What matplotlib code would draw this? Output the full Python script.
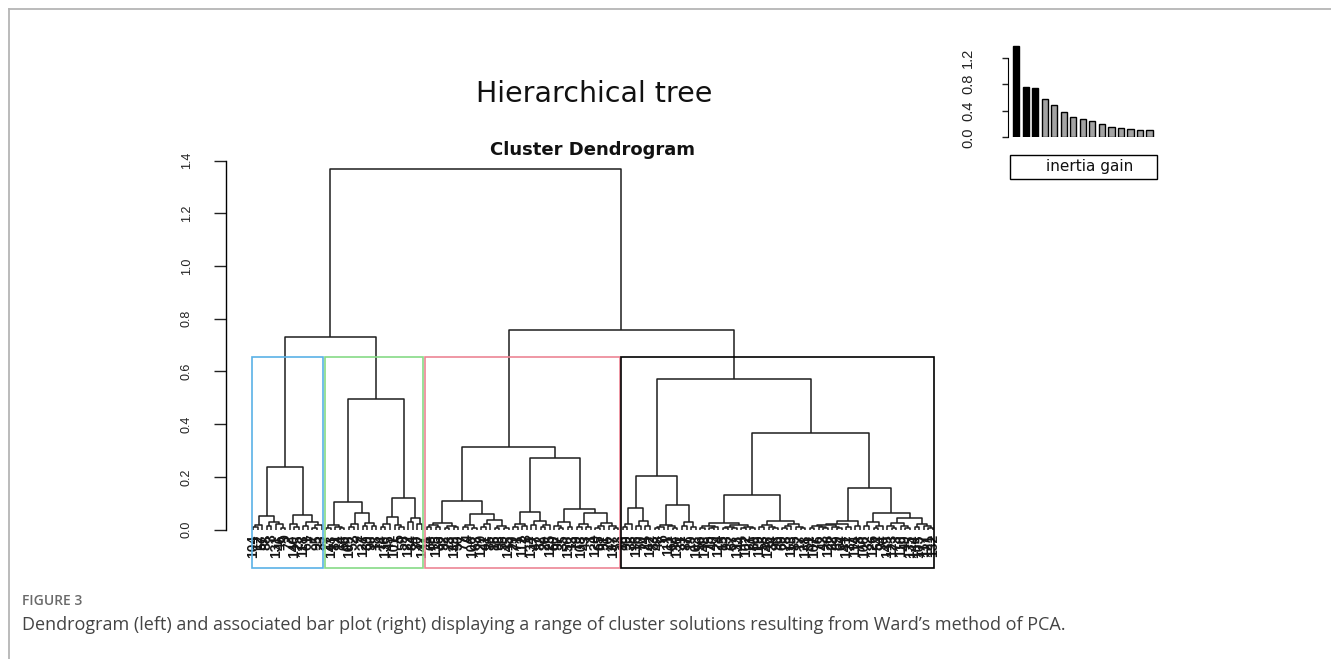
import matplotlib
matplotlib.use("Agg")
import matplotlib.pyplot as plt
from matplotlib.collections import LineCollection
from matplotlib.patches import Rectangle
from matplotlib.lines import Line2D

W, H = 1331, 659
o = None  # a single observation (leaf)

# ---------------- dendrogram data: (merge height, left, right) ----------------
BLUE_TREE = (0.236,
    (0.052, (0.018, (0.008, o, o), o),
            (0.030, (0.012, o, o), (0.020, o, (0.007, o, o)))),
    (0.055, (0.022, o, (0.010, o, o)),
            (0.028, (0.015, o, o), (0.018, (0.006, o, o), o))))

GREEN_TREE = (0.496,
    (0.104, (0.016, (0.007, o, o), (0.010, o, (0.004, o, o))),
            (0.064, (0.020, (0.009, o, o), o),
                    (0.025, (0.012, o, o), (0.014, o, o)))),
    (0.120, (0.047, (0.022, (0.010, o, o), o), (0.018, o, (0.008, o, o))),
            (0.045, (0.030, o, o), (0.020, o, o))))

RED_TREE = (0.312,
    (0.108, (0.026, (0.016, (0.008, o, o), (0.010, o, o)),
                    (0.014, (0.006, o, o), (0.009, o, o))),
            (0.058, (0.016, (0.008, o, o), (0.006, o, o)),
                    (0.035, (0.020, (0.009, o, o), o),
                            (0.015, (0.007, o, o), (0.005, o, o))))),
    (0.270, (0.067, (0.020, (0.010, o, o), (0.012, o, o)),
                    (0.033, (0.018, o, o), (0.016, (0.008, o, o), o))),
            (0.077, (0.028, (0.014, o, (0.006, o, o)), (0.010, o, o)),
                    (0.062, (0.022, (0.010, o, o), (0.008, o, o)),
                            (0.024, (0.012, (0.005, o, o), o),
                                    (0.015, o, (0.007, o, o)))))))

BLACK_TREE = (0.570,
    (0.205, (0.083, (0.022, (0.010, o, o), o),
                    (0.033, (0.015, o, o), (0.012, o, o))),
            (0.095, (0.018, (0.010, (0.005, o, o), o), (0.012, o, (0.006, o, o))),
                    (0.030, (0.014, o, o), (0.010, o, o)))),
    (0.367, (0.131, (0.026, (0.012, (0.006, o, o), (0.008, (0.004, o, o), o)),
                            (0.016, (0.010, (0.005, o, o), (0.007, o, o)),
                                    (0.011, (0.004, o, o), (0.006, o, o)))),
                    (0.034, (0.016, (0.008, o, o), (0.010, o, (0.004, o, o))),
                            (0.020, (0.012, (0.006, o, o), o), (0.009, o, (0.004, o, o))))),
            (0.157, (0.034, (0.022, (0.016, (0.012, (0.006, o, o), (0.009, o, (0.004, o, o))),
                                            (0.008, o, (0.004, o, o))),
                                    (0.010, o, o)),
                            (0.012, o, o)),
                    (0.064, (0.030, (0.014, o, o), (0.012, (0.005, o, o), o)),
                            (0.043, (0.025, (0.012, o, (0.005, o, o)), (0.015, o, (0.006, o, o))),
                                    (0.021, (0.010, o, o), (0.012, o, (0.005, o, o))))))))

LEFT_MERGE = 0.730
RIGHT_MERGE = 0.757
ROOT_MERGE = 1.367
CLUSTER_TREES = [BLUE_TREE, GREEN_TREE, RED_TREE, BLACK_TREE]

BLUE_LABELS = [104, 12, 57, 88, 3, 131, 46, 9, 72, 140, 25, 118, 61, 7, 95, 33]
GREEN_LABELS = [27, 143, 81, 14, 66, 109, 52, 2, 127, 39, 90, 18, 74, 136, 45, 101,
                5, 59, 122, 84, 30, 147]
RED_LABELS = [11, 68, 115, 36, 92, 23, 139, 50, 77, 4, 106, 63, 129, 41, 86, 16, 98,
              55, 145, 29, 71, 112, 8, 134, 47, 82, 20, 125, 60, 97, 35, 150, 13, 79,
              108, 43, 1, 120, 65, 91, 26, 137, 53]
BLACK_LABELS = [10, 99, 38, 116, 70, 24, 142, 83, 48, 6, 111, 62, 130, 31, 87, 19, 103,
                56, 148, 75, 40, 124, 15, 93, 67, 133, 44, 102, 21, 80, 119, 58, 146, 34,
                96, 69, 28, 113, 85, 17, 138, 51, 107, 76, 42, 128, 22, 89, 64, 141, 37,
                114, 78, 100, 32, 126, 54, 94, 149, 123, 73, 110, 49, 135, 144, 105, 117,
                121, 132]
CUT_HEIGHT = 0.655
Y_TICKS = [0.0, 0.2, 0.4, 0.6, 0.8, 1.0, 1.2, 1.4]

# ---------------- inertia gain bar plot ----------------
INERTIA_GAIN = [1.38, 0.759, 0.739, 0.578, 0.492, 0.377, 0.312, 0.276, 0.241,
                0.196, 0.156, 0.136, 0.126, 0.111, 0.111]
N_CHOSEN = 3
BAR_TICKS = [0.0, 0.4, 0.8, 1.2]

TITLE = "Hierarchical tree"
SUBTITLE = "Cluster Dendrogram"
LEGEND_TEXT = "inertia gain"
FIG_LABEL = "FIGURE 3"
CAPTION = ("Dendrogram (left) and associated bar plot (right) displaying a range of "
           "cluster solutions resulting from Ward\u2019s method of PCA.")

CLUSTER_COLORS = ["#5AB1E6", "#86DA86", "#EC8595", "#000000"]
NARROW = ["Liberation Sans Narrow", "Liberation Sans", "DejaVu Sans"]


def px_rect(l, t, r, b):
    return [l / W, 1 - b / H, (r - l) / W, (b - t) / H]


def layout(node, pos, segs, leaves):
    if node is None:
        pos[0] += 1
        leaves.append(pos[0])
        return pos[0], 0.0
    h, left, right = node
    xl, yl = layout(left, pos, segs, leaves)
    xr, yr = layout(right, pos, segs, leaves)
    segs.append([(xl, yl), (xl, h), (xr, h), (xr, yr)])
    return (xl + xr) / 2.0, h


def count(node):
    return 1 if node is None else count(node[1]) + count(node[2])


fig = plt.figure(figsize=(W / 100, H / 100), dpi=100)
fig.patch.set_facecolor("white")

# card frame (left + top)
fig.add_artist(Line2D([9 / W, 9 / W], [0, 1 - 9 / H], transform=fig.transFigure,
                      color="#b5b5b5", lw=1.3))
fig.add_artist(Line2D([9 / W, 1], [1 - 9 / H, 1 - 9 / H], transform=fig.transFigure,
                      color="#b5b5b5", lw=1.3))

# ---------------- dendrogram ----------------
tree = (ROOT_MERGE, (LEFT_MERGE, BLUE_TREE, GREEN_TREE), (RIGHT_MERGE, RED_TREE, BLACK_TREE))
segs, leaves = [], []
layout(tree, [0], segs, leaves)
n = len(leaves)
labels = BLUE_LABELS + GREEN_LABELS + RED_LABELS + BLACK_LABELS

ax = fig.add_axes(px_rect(226, 155.4, 960, 568))
ax.set_xlim(1 - 0.04 * (n - 1), n + 0.04 * (n - 1))
ax.set_ylim(-0.146, 1.42)
ax.add_collection(LineCollection(segs, colors="#1e1e1e", linewidths=1.1))

for x, lab in zip(leaves, labels):
    ax.text(x, -0.018, str(lab), rotation=90, ha="center", va="top",
            fontsize=10, family=NARROW, weight="bold", color="#151515")

start = 1
for tr, col in zip(CLUSTER_TREES, CLUSTER_COLORS):
    k = count(tr)
    x0, x1 = start - 0.34, start + k - 1 + 0.33
    y0 = ax.get_ylim()[0]
    ax.add_patch(Rectangle((x0, y0), x1 - x0, CUT_HEIGHT - y0, fill=False,
                           edgecolor=col, lw=1.2, clip_on=False, zorder=3))
    start += k

for s in ["top", "right", "bottom"]:
    ax.spines[s].set_visible(False)
ax.spines["left"].set_bounds(0, 1.4)
ax.spines["left"].set_linewidth(1.0)
ax.set_xticks([])
ax.set_yticks(Y_TICKS)
ax.set_yticklabels([f"{v:.1f}" for v in Y_TICKS])
ax.tick_params(axis="y", length=9, width=1.0, pad=15, labelsize=9, colors="#222222")
for t in ax.get_yticklabels():
    t.set_rotation(90)
    t.set_va("center")
    t.set_ha("right")
    t.set_family(NARROW)
ax.patch.set_alpha(0)

fig.text(594 / W, 1 - 101.5 / H, TITLE, ha="center", va="baseline", fontsize=20.5,
         family="DejaVu Sans", color="#111111")
fig.text(593 / W, 1 - 155 / H, SUBTITLE, ha="center", va="baseline", fontsize=13,
         weight="bold", family="DejaVu Sans", color="#111111")

# ---------------- inertia gain inset ----------------
ax2 = fig.add_axes(px_rect(1008.3, 41.2, 1160, 137.3))
ax2.set_xlim(-0.83, 15.1)
ax2.set_ylim(0, 1.45)
bar_colors = ["black" if i < N_CHOSEN else "#a3a3a3" for i in range(len(INERTIA_GAIN))]
ax2.bar(range(len(INERTIA_GAIN)), INERTIA_GAIN, width=0.65, color=bar_colors,
        edgecolor="black", linewidth=1.0)
for s in ["top", "right", "bottom"]:
    ax2.spines[s].set_visible(False)
ax2.spines["left"].set_bounds(0, 1.2)
ax2.set_xticks([])
ax2.set_yticks(BAR_TICKS)
ax2.set_yticklabels([f"{v:.1f}" for v in BAR_TICKS])
ax2.tick_params(axis="y", length=4, width=1.0, pad=20, labelsize=10.5, colors="#222222")
for t in ax2.get_yticklabels():
    t.set_rotation(90)
    t.set_va("center")
    t.set_ha("right")
    t.set_family(NARROW)
ax2.patch.set_alpha(0)

# legend box
fig.add_artist(Rectangle((1010 / W, 1 - 179 / H), 147.3 / W, 24 / H,
                         transform=fig.transFigure, fill=False, edgecolor="black", lw=1.0))
fig.text(1090 / W, 1 - 167 / H, LEGEND_TEXT, ha="center", va="center", fontsize=11,
         family="DejaVu Sans", color="#111111")

# ---------------- caption ----------------
fig.text(22 / W, 1 - 605 / H, FIG_LABEL, ha="left", va="baseline", fontsize=10,
         family=["Open Sans", "DejaVu Sans"], weight="semibold", color="#6a6a6a")
fig.text(22 / W, 1 - 630 / H, CAPTION, ha="left", va="baseline", fontsize=13,
         family=["Open Sans", "DejaVu Sans"], color="#444444")

fig.savefig("out.png", dpi=100, facecolor="white")
